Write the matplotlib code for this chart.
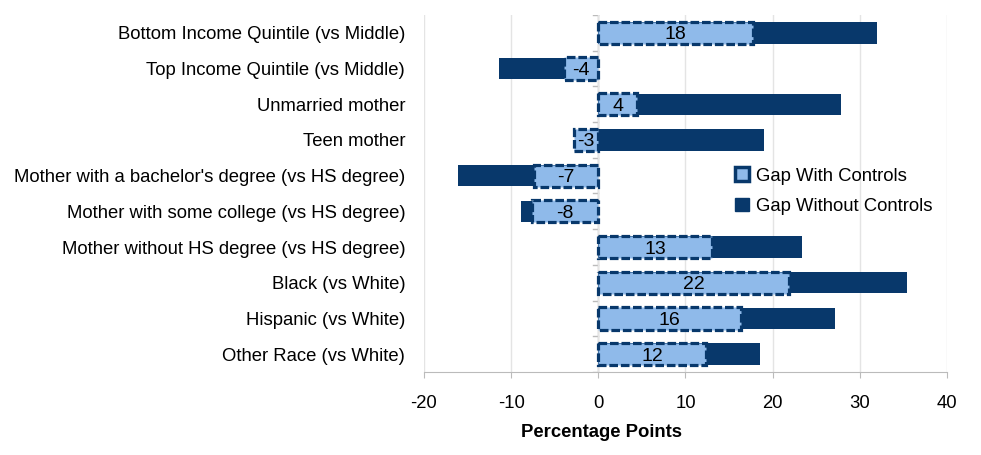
import numpy as np
import matplotlib.pyplot as plt
from matplotlib.patches import Patch

plt.rcParams['font.family'] = ['Liberation Sans', 'DejaVu Sans']
plt.rcParams['axes.unicode_minus'] = False

categories = ['Bottom Income Quintile (vs Middle)',
              'Top Income Quintile (vs Middle)',
              'Unmarried mother',
              'Teen mother',
              "Mother with a bachelor's degree (vs HS degree)",
              'Mother with some college (vs HS degree)',
              'Mother without HS degree (vs HS degree)',
              'Black (vs White)',
              'Hispanic (vs White)',
              'Other Race (vs White)']
gap_without = [32.0, -11.4, 27.8, 19.0, -16.1, -8.9, 23.4, 35.4, 27.1, 18.6]
gap_with = [17.7, -3.9, 4.4, -2.8, -7.4, -7.6, 13.0, 21.9, 16.4, 12.4]

dark = '#08386b'
light = '#8fbaea'
fs = 13.3

fig = plt.figure(figsize=(9.81, 4.55), dpi=100)
# plot area: x from 424 to 947 px, y from 15 to 372 px
ax = fig.add_axes([424/981, 1 - 372/455, (947-424)/981, (372-15)/455])

y = np.arange(len(categories))
ax.barh(y, gap_without, height=0.6, color=dark, zorder=2)
bars = ax.barh(y, gap_with, height=0.62, color=light, edgecolor=dark,
               linewidth=2.3, linestyle=(0, (2.7, 0.9)), zorder=3)
for b, v in zip(bars, gap_with):
    ax.text(b.get_x() + b.get_width()/2, b.get_y() + b.get_height()/2,
            f'{round(v):d}', ha='center', va='center_baseline', fontsize=14, zorder=4)

ax.set_ylim(len(categories) - 0.5, -0.5)
ax.set_xlim(-20, 40)
ax.set_xticks(np.arange(-20, 41, 10))
ax.set_yticks(y)
ax.set_yticklabels(categories, fontsize=fs)
ax.tick_params(axis='y', length=0, pad=13.5)
ax.tick_params(axis='x', length=4.3, color='#bbbbbb', labelsize=fs, pad=12)
ax.set_xlabel('Percentage Points', fontsize=fs, fontweight='bold')
ax.xaxis.set_label_coords(0.34, -0.147)

ax.grid(axis='x', color='#e4e4e4', linewidth=1, zorder=0)
for s in ['top', 'right', 'left']:
    ax.spines[s].set_visible(False)
ax.spines['bottom'].set_color('#bbbbbb')
ax.axvline(0, color='#bbbbbb', linewidth=1, zorder=1)
# small tick marks on the zero line between categories
for yb in np.arange(-0.5, len(categories), 1):
    ax.plot([-0.6, 0], [yb, yb], color='#bbbbbb', linewidth=1, zorder=1)

handles = [Patch(facecolor=light, edgecolor=dark, linewidth=2.5, label='Gap With Controls'),
           Patch(facecolor=dark, edgecolor=dark, label='Gap Without Controls')]
ax.legend(handles=handles, loc='upper left', bbox_to_anchor=(0.595, 0.573),
          frameon=False, fontsize=fs, handlelength=0.75, handleheight=0.75,
          handletextpad=0.4, labelspacing=0.7, borderaxespad=0, borderpad=0)

fig.savefig('out.png', dpi=100)
